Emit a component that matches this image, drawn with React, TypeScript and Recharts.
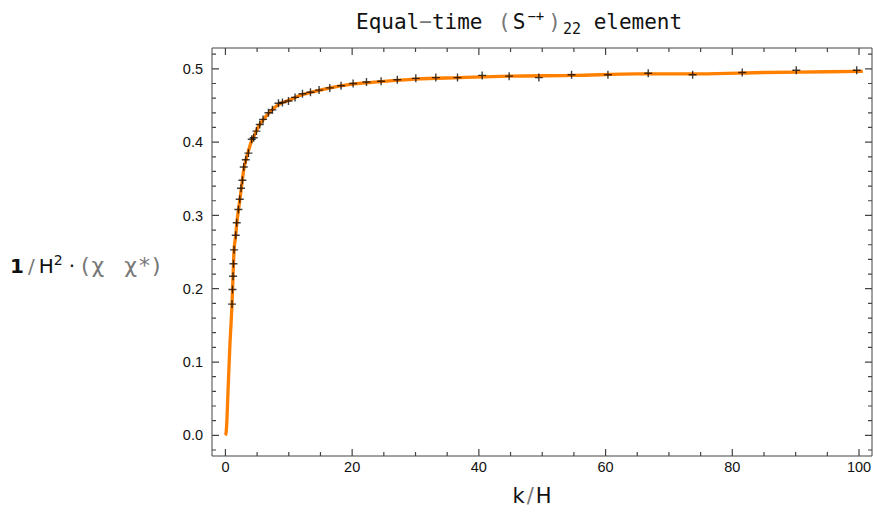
import { ComposedChart, Line, ReferenceLine, Scatter, XAxis, YAxis } from 'recharts';

const markerK = [
  1.04, 1.11, 1.2, 1.26, 1.36, 1.63, 1.78, 2.05, 2.26, 2.46, 2.68, 2.89, 3.21, 3.63, 4.15, 4.47,
  4.89, 5.42, 5.94, 6.79, 7.42, 8.37, 9.0, 9.95, 10.99, 12.16, 13.42, 14.78, 16.47, 18.25, 20.15,
  22.26, 24.57, 27.13, 30.05, 33.21, 36.63, 40.52, 44.78, 49.47, 54.63, 60.37, 66.73, 73.74, 81.57,
  90.1, 99.64,
];
const markerVal = [
  0.179, 0.199, 0.217, 0.234, 0.253, 0.273, 0.29, 0.308, 0.322, 0.337, 0.348, 0.366, 0.376, 0.385,
  0.404, 0.406, 0.415, 0.424, 0.431, 0.44, 0.444, 0.453, 0.454, 0.456, 0.461, 0.466, 0.468, 0.471,
  0.474, 0.477, 0.48, 0.482, 0.483, 0.485, 0.487, 0.488, 0.488, 0.491, 0.49, 0.488, 0.492, 0.492,
  0.494, 0.492, 0.495, 0.498, 0.498,
];

// the orange curve
const lineK = [
  0, 0.1, 0.2, 0.4, 0.7, 1.04, 1.2, 1.36, 1.63, 1.8, 2.05, 2.3, 2.6, 2.9, 3.2, 3.6, 4.1, 4.6, 5.2,
  6, 7, 8, 9, 10, 11, 12.2, 14, 16.5, 20, 25, 30, 37, 45, 55, 65, 75, 85, 95, 100.6,
];
const lineVal = [
  0, 0.003, 0.015, 0.058, 0.122, 0.179, 0.217, 0.252, 0.273, 0.29, 0.307, 0.323, 0.343, 0.363,
  0.375, 0.387, 0.401, 0.41, 0.421, 0.431, 0.441, 0.449, 0.454, 0.457, 0.461, 0.465, 0.469, 0.474,
  0.479, 0.483, 0.486, 0.488, 0.49, 0.491, 0.493, 0.493, 0.495, 0.496, 0.4965,
];

const xMajorTicks = [0, 20, 40, 60, 80, 100];
const xMinorTicks = [5, 10, 15, 25, 30, 35, 45, 50, 55, 65, 70, 75, 85, 90, 95];
const yMajorTicks = [0, 0.1, 0.2, 0.3, 0.4, 0.5];
const yMinorTicks = [
  -0.02, 0.02, 0.04, 0.06, 0.08, 0.12, 0.14, 0.16, 0.18, 0.22, 0.24, 0.26, 0.28, 0.32, 0.34, 0.36,
  0.38, 0.42, 0.44, 0.46, 0.48, 0.52,
];

const markerData = markerK.map((k, i) => ({ k, v: markerVal[i] }));
const lineData = lineK.map((k, i) => ({ k, v: lineVal[i] }));

const X_DOMAIN: [number, number] = [-2.12, 102.05];
const Y_DOMAIN: [number, number] = [-0.0282, 0.5284];
const [X0, X1] = X_DOMAIN;
const [Y0, Y1] = Y_DOMAIN;

// plot box in pixels (margins + axis sizes below)
const PLOT_LEFT = 212;
const PLOT_RIGHT = 872;
const PLOT_TOP = 48;
const PLOT_BOTTOM = 456;

const FRAME = '#444';
const MAJOR = 7;
const MINOR = 4;
const LABEL_FONT = '"Liberation Sans", Arial, sans-serif';

const allXTicks = [...xMajorTicks, ...xMinorTicks].sort((a, b) => a - b);
const allYTicks = [...yMajorTicks, ...yMinorTicks].sort((a, b) => a - b);

// tick marks point inward on both sides of the frame
const XTick = (props: any) => {
  const { x, y, payload } = props;
  const cx = payload.coordinate ?? x;
  const major = xMajorTicks.includes(payload.value);
  const len = major ? MAJOR : MINOR;
  return (
    <g>
      <path d={`M${cx},${PLOT_BOTTOM}v${-len}M${cx},${PLOT_TOP}v${len}`} stroke={FRAME} strokeWidth={1.2} />
      {major && (
        <text x={cx} y={y} dy="0.71em" textAnchor="middle" fontSize={14.5} fontFamily={LABEL_FONT} fill="#111">
          {payload.value}
        </text>
      )}
    </g>
  );
};

const YTick = (props: any) => {
  const { x, y, payload } = props;
  const cy = payload.coordinate ?? y;
  const major = yMajorTicks.includes(payload.value);
  const len = major ? MAJOR : MINOR;
  return (
    <g>
      <path d={`M${PLOT_LEFT},${cy}h${len}M${PLOT_RIGHT},${cy}h${-len}`} stroke={FRAME} strokeWidth={1.2} />
      {major && (
        <text x={x} y={cy} dy="0.355em" textAnchor="end" fontSize={14.5} fontFamily={LABEL_FONT} fill="#111">
          {payload.value.toFixed(1)}
        </text>
      )}
    </g>
  );
};

const Plus = (props: any) => {
  const { cx, cy } = props;
  if (cx == null || cy == null) return <g />;
  return (
    <path
      d={`M${cx - 4},${cy}H${cx + 4}M${cx},${cy - 4}V${cy + 4}`}
      stroke="rgba(0,0,0,0.75)"
      strokeWidth={1.4}
      fill="none"
    />
  );
};

const gray = { color: '#777' };

export default function App() {
  return (
    <div style={{ position: 'relative', width: 877, height: 516, background: '#fff' }}>
      <style>{'body{margin:0}'}</style>
      <div
        style={{
          position: 'absolute',
          top: 8,
          left: 356,
          fontFamily: '"DejaVu Sans Mono", monospace',
          fontSize: 21,
          color: '#111',
          whiteSpace: 'pre',
        }}
      >
        Equal<span style={gray}>−</span>time <span style={{ ...gray, margin: '0 2px 0 3px' }}>(</span>S
        <sup style={{ fontSize: 14, margin: '0 2px' }}>−+</sup>
        <span style={{ ...gray, margin: '0 2px' }}>)</span>
        <sub style={{ fontSize: 15 }}>22</sub> element
      </div>
      <div
        style={{
          position: 'absolute',
          top: 252,
          left: 10,
          fontFamily: '"DejaVu Sans", sans-serif',
          fontSize: 20,
          color: '#111',
          whiteSpace: 'pre',
        }}
      >
        <b>1</b>
        <span style={{ ...gray, margin: '0 4px' }}>/</span>H<sup style={{ fontSize: 14 }}>2</sup>
        <span style={{ margin: '0 6px' }}>·</span>
        <span style={{ ...gray, fontSize: 22, letterSpacing: 2 }}>(χ  χ*)</span>
      </div>
      <div
        style={{
          position: 'absolute',
          top: 484,
          left: 0,
          width: 1064,
          textAlign: 'center',
          fontFamily: '"DejaVu Sans", sans-serif',
          fontSize: 21,
          color: '#111',
          whiteSpace: 'pre',
        }}
      >
        k<span style={{ ...gray, margin: '0 2px' }}>/</span>H
      </div>
      <ComposedChart width={877} height={516} margin={{ top: PLOT_TOP, right: 877 - PLOT_RIGHT, bottom: 0, left: 0 }}>
        <XAxis
          xAxisId="x"
          dataKey="k"
          type="number"
          domain={X_DOMAIN}
          allowDataOverflow
          ticks={allXTicks}
          interval={0}
          height={516 - PLOT_BOTTOM}
          tickLine={false}
          axisLine={false}
          tickSize={0}
          tickMargin={6}
          tick={XTick}
        />
        <YAxis
          yAxisId="y"
          type="number"
          domain={Y_DOMAIN}
          allowDataOverflow
          ticks={allYTicks}
          interval={0}
          width={PLOT_LEFT}
          tickLine={false}
          axisLine={false}
          tickSize={0}
          tickMargin={9}
          tick={YTick}
        />

        {/* frame */}
        <ReferenceLine xAxisId="x" yAxisId="y" y={Y0} stroke={FRAME} ifOverflow="visible" />
        <ReferenceLine xAxisId="x" yAxisId="y" y={Y1} stroke={FRAME} ifOverflow="visible" />
        <ReferenceLine xAxisId="x" yAxisId="y" x={X0} stroke={FRAME} ifOverflow="visible" />
        <ReferenceLine xAxisId="x" yAxisId="y" x={X1} stroke={FRAME} ifOverflow="visible" />

        <Line
          xAxisId="x"
          yAxisId="y"
          data={lineData}
          dataKey="v"
          type="monotone"
          stroke="#ff8000"
          strokeWidth={3.3}
          dot={false}
          activeDot={false}
          isAnimationActive={false}
        />
        <Scatter
          xAxisId="x"
          yAxisId="y"
          data={markerData}
          dataKey="v"
          shape={Plus}
          isAnimationActive={false}
        />
      </ComposedChart>
    </div>
  );
}
